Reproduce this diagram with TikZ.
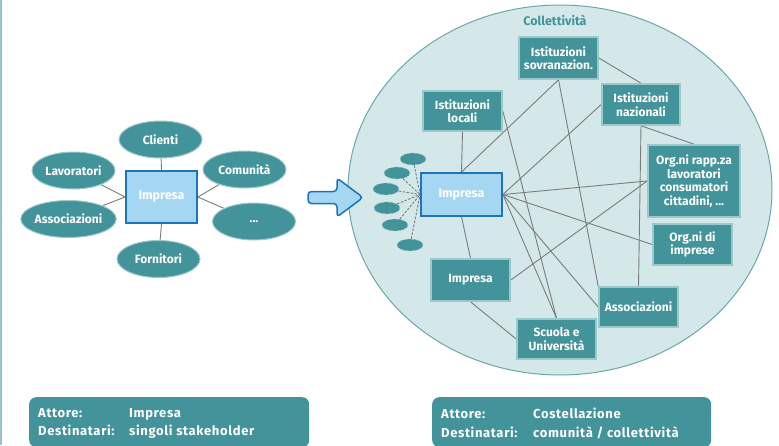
\documentclass[tikz,border=0pt]{standalone}
\usepackage{fontspec}
\setmainfont{Fira Sans}
\newfontfamily\botfont[LetterSpace=5]{Fira Sans}
\usetikzlibrary{shapes.geometric}
\definecolor{tealdark}{HTML}{42939A}
\definecolor{boxedge}{HTML}{9CC8CB}
\definecolor{circfill}{HTML}{D4E8EA}
\definecolor{circedge}{HTML}{6AA8AE}
\definecolor{lblue}{HTML}{A5D6F2}
\definecolor{dblue}{HTML}{1E74B8}
\definecolor{edgegray}{HTML}{7B7B7B}
\definecolor{sideline}{HTML}{9CC4C8}
\pgfdeclarelayer{bg}
\pgfdeclarelayer{edges}
\pgfsetlayers{bg,edges,main}
\begin{document}
\begin{tikzpicture}[x=1pt,y=-1pt,
  tbox/.style={rectangle, draw=boxedge, line width=1.6pt, fill=tealdark, text=white,
    font=\bfseries\fontsize{12}{13.5}\selectfont, align=center, inner sep=0pt},
  ibox/.style={rectangle, draw=dblue, line width=1.8pt, fill=lblue, text=white,
    font=\bfseries\fontsize{12.5}{14}\selectfont, align=center, inner sep=0pt},
  oval/.style={ellipse, draw=boxedge, line width=1pt, fill=tealdark, text=white,
    font=\bfseries\fontsize{12}{14}\selectfont, minimum width=83pt, minimum height=37pt, inner sep=0pt},
  cloud/.style={ellipse, draw=boxedge, dashed, line width=0.6pt, fill=tealdark, minimum width=26pt, minimum height=12pt, inner sep=0pt},
  link/.style={draw=edgegray, line width=0.9pt},
  dlink/.style={draw=edgegray, line width=0.9pt, dash pattern=on 2.5pt off 1.5pt},
  botbox/.style={rectangle, fill=tealdark, rounded corners=7pt, inner sep=0pt, anchor=north west},
  bottxt/.style={text=white, font=\botfont\bfseries\fontsize{13}{18.5}\selectfont, align=left, anchor=west, inner sep=0pt}
]
\useasboundingbox (0,0) rectangle (779,445);
\begin{pgfonlayer}{bg}
\fill[white] (0,0) rectangle (779,445);
\draw[sideline, line width=1.5pt] (1,0) -- (1,445);
\draw[circedge, fill=circfill, line width=1pt] (560,190) ellipse [x radius=212, y radius=185];
\end{pgfonlayer}

% ---------- left diagram ----------
\node[ibox, minimum width=71pt, minimum height=52pt] (impl) at (161.5,197) {Impresa};
\node[oval] (cli) at (160.5,139.5) {Clienti};
\node[oval] (lav) at (73.5,170.5) {Lavoratori};
\node[oval] (com) at (244.5,169.5) {Comunità};
\node[oval] (assl) at (68.5,219) {Associazioni};
\node[oval] (dots) at (254,221.5) {...};
\node[oval] (for) at (158.5,259) {Fornitori};
\begin{pgfonlayer}{edges}
\draw[link] (cli) -- (impl.north);
\draw[link] (lav) -- (impl.west);
\draw[link] (assl) -- (impl.west);
\draw[link] (com) -- (impl.east);
\draw[link] (dots) -- (impl.east);
\draw[link] (for) -- (impl.south);
\end{pgfonlayer}

% ---------- arrow ----------
\draw[dblue, fill=lblue, line width=1.5pt, rounded corners=3.5pt]
  (308,191.5) -- (337,191.5) -- (337,178) -- (363,197.5) -- (337,217) -- (337,203.5) -- (308,203.5) -- cycle;

% ---------- collectivity ----------
\node[text=tealdark, font=\bfseries\fontsize{12.5}{14}\selectfont] (coll) at (555,20) {Collettività};

\node[tbox, minimum width=79pt, minimum height=42pt] (is) at (558.5,58) {Istituzioni\\sovranazion.};
\node[tbox, minimum width=79pt, minimum height=40pt] (il) at (462.5,111) {Istituzioni\\locali};
\node[tbox, minimum width=78pt, minimum height=41pt] (in) at (641,104.5) {Istituzioni\\nazionali};
\node[tbox, minimum width=92pt, minimum height=72pt] (org) at (694,181) {Org.ni rapp.za\\lavoratori\\consumatori\\cittadini, ...};
\node[tbox, minimum width=79pt, minimum height=41pt] (orgi) at (692.5,244.5) {Org.ni di\\imprese};
\node[ibox, minimum width=81pt, minimum height=43pt] (imp) at (461.5,194.5) {Impresa};
\node[tbox, minimum width=79pt, minimum height=42pt] (imp2) at (470.5,280) {Impresa};
\node[tbox, minimum width=79pt, minimum height=40pt] (scu) at (556.5,339) {Scuola e\\Università};
\node[tbox, minimum width=79pt, minimum height=40pt] (ass) at (638.5,307) {Associazioni};

% small clouds
\node[cloud] (c1) at (413,159) {};
\node[cloud] (c2) at (397,173) {};
\node[cloud] (c3) at (386,189) {};
\node[cloud] (c4) at (387,208) {};
\node[cloud] (c5) at (395,225) {};
\node[cloud] (c6) at (410,245) {};

\begin{pgfonlayer}{edges}
\draw[link] (il.south) -- (imp.north);
\draw[link] (is.south) -- (imp.north);
\draw[link] (is.east) -- (in.north);
\draw[link] (is.south) -- (ass.north west);
\draw[link] (in.west) -- (imp.east);
\draw[link] (in.south) -- (org.north);
\draw[link] (in.south) -- (ass.north);
\draw[link] (il.east) -- (scu.north);
\draw[link] (imp.east) -- (org.west);
\draw[link] (imp.east) -- (orgi.west);
\draw[link] (imp.east) -- (ass.west);
\draw[link] (imp.east) -- (scu.north);
\draw[link] (imp.south) -- (imp2.north);
\draw[link] (imp2.east) -- (org.west);
\draw[link] (imp2.south) -- (scu.west);
\foreach \c in {c1,c2,c3,c4,c5,c6} \draw[dlink] (\c) -- (imp.west);
\end{pgfonlayer}

% ---------- bottom boxes ----------
\node[botbox, minimum width=280pt, minimum height=50pt] (bl) at (29,397) {};
\node[bottxt] (tl) at (38,423.5) {\makebox[91pt][l]{Attore:}Impresa\\\makebox[91pt][l]{Destinatari:}singoli stakeholder};
\node[botbox, minimum width=279pt, minimum height=50pt] (br) at (432,397) {};
\node[bottxt] (tr) at (441,423.5) {\makebox[92pt][l]{Attore:}Costellazione\\\makebox[92pt][l]{Destinatari:}comunità / collettività};
\end{tikzpicture}
\end{document}
